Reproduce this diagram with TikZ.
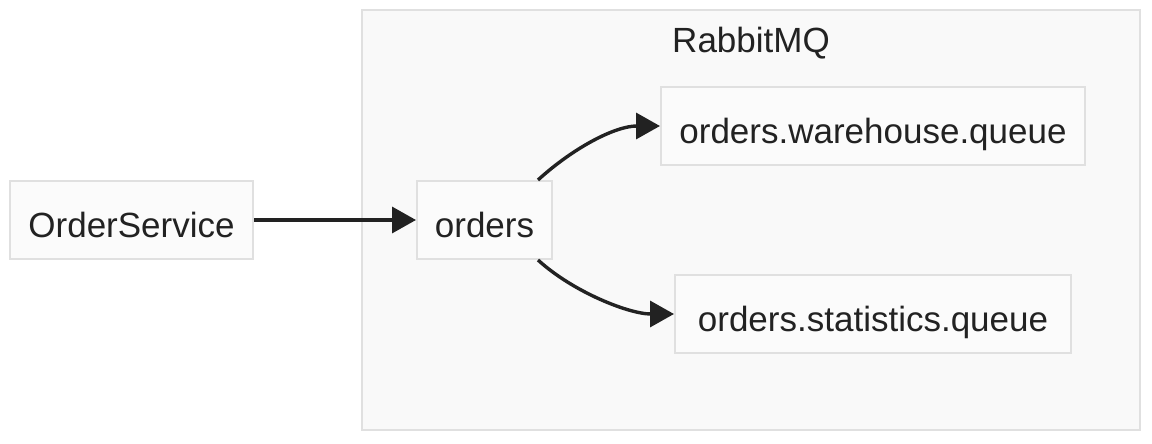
\documentclass[tikz,border=0pt]{standalone}
\usepackage{fontspec}
\setmainfont{Liberation Sans}
\usetikzlibrary{arrows.meta,calc,positioning}
\definecolor{mfill}{HTML}{FBFBFB}
\definecolor{mline}{HTML}{E0E0E0}
\definecolor{mgroup}{HTML}{F9F9F9}
\definecolor{mink}{HTML}{222222}
\tikzset{
  >={Triangle[length=12pt,width=13pt]},
  mtext/.style={text=mink, font=\fontsize{17.5}{21}\selectfont,
                text height=17.5pt, text depth=0pt},
  mbox/.style={mtext, draw=mline, fill=mfill, line width=1pt,
               minimum height=39pt, inner sep=0pt},
  mgrp/.style={draw=mline, fill=mgroup, line width=1pt, inner sep=0pt},
  mflow/.style={->, mink, line width=1.7pt},
}

\begin{document}
\begin{tikzpicture}[x=0.5pt,y=-0.5pt]
  \useasboundingbox (0,0) rectangle (1152,444);

  % broker
  \node[mgrp, minimum width=389pt, minimum height=210pt] (rabbit) at (751,220) {};
  \node[mtext] (rabbitlbl) at (751,35) {RabbitMQ};

  % producer and exchange
  \node[mbox, minimum width=121.5pt] (svc) at (131.5,220) {OrderService};
  \node[mbox, minimum width=67.5pt] (orders) at (484.5,220) {orders};

  % queues
  \node[mbox, minimum width=212pt] (whq) at (873,126) {orders.warehouse.queue};
  \node[mbox, minimum width=198pt] (stq) at (873,314) {orders.statistics.queue};

  % flows
  \draw[mflow] (svc) -- (orders);
  \draw[mflow] ($(orders.north east)+(-15,0)$)
        .. controls +(35,-32) and +(-45,0) .. (whq.west);
  \draw[mflow] ($(orders.south east)+(-15,0)$)
        .. controls +(35,32) and +(-45,0) .. (stq.west);

\end{tikzpicture}
\end{document}
